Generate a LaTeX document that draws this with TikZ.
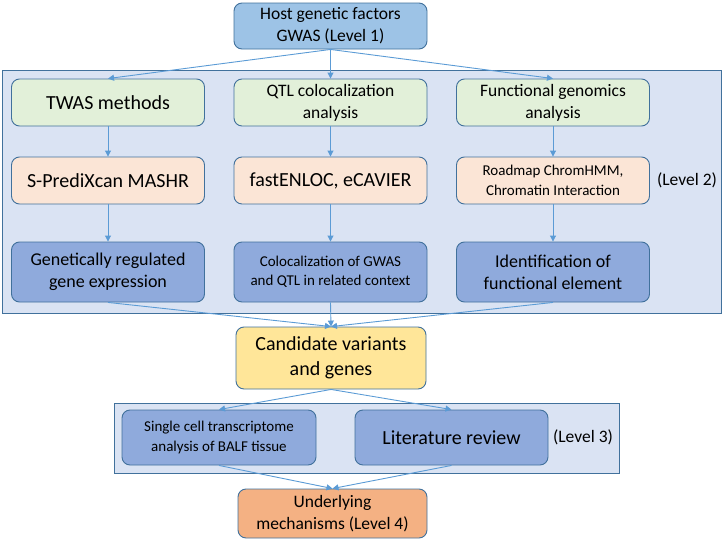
\documentclass[tikz,border=0pt]{standalone}
\usepackage{fontspec}
\setmainfont{Carlito}
\usetikzlibrary{arrows.meta}
\definecolor{bord}{HTML}{41719C}
\definecolor{arr}{HTML}{5B9BD5}
\definecolor{topc}{HTML}{9DC3E6}
\definecolor{greenc}{HTML}{E2F0D9}
\definecolor{peachc}{HTML}{FBE5D6}
\definecolor{bluec}{HTML}{8FAADC}
\definecolor{panelc}{HTML}{DAE3F3}
\definecolor{candc}{HTML}{FFE699}
\definecolor{undc}{HTML}{F4B183}
\tikzset{
  box/.style={draw=bord, line width=0.9pt, rounded corners=8pt, align=center,
    minimum width=193pt, inner sep=2pt, text=black},
  panel/.style={draw=bord, line width=1pt, fill=panelc},
  conn/.style={draw=arr, line width=0.9pt, -{Triangle[length=6pt,width=6pt]}},
  fbig/.style={font=\fontsize{20}{24}\selectfont},
  fmid/.style={font=\fontsize{17.5}{22}\selectfont},
  fmed/.style={font=\fontsize{18}{22}\selectfont},
  fsmall/.style={font=\fontsize{15}{19.5}\selectfont},
}
\begin{document}
\begin{tikzpicture}[x=1pt,y=-1pt]
\useasboundingbox (0,0) rectangle (724,541);
% panels
\node[panel, minimum width=719pt, minimum height=243pt, inner sep=0pt] (p2) at (361.5,191.5) {};
\node[panel, minimum width=505pt, minimum height=70pt, inner sep=0pt] (p3) at (366.5,438) {};
% top
\node[box, fill=topc, minimum height=46pt, fmid] (gwas) at (330.5,26)
  {Host genetic factors\\GWAS (Level 1)};
% row 1
\node[box, fill=greenc, minimum height=47pt, fbig] (twas) at (108,102.5)
  {TWAS methods};
\node[box, fill=greenc, minimum height=47pt, fmid] (qtl) at (330.5,102.5)
  {QTL colocalization\\analysis};
\node[box, fill=greenc, minimum height=47pt, fmid] (func) at (553,102.5)
  {Functional genomics\\analysis};
% row 2
\node[box, fill=peachc, minimum height=47pt, fbig] (spx) at (108,180.5)
  {S-PrediXcan MASHR};
\node[box, fill=peachc, minimum height=47pt, fbig] (fen) at (330.5,180.5)
  {fastENLOC, eCAVIER};
\node[box, fill=peachc, minimum height=47pt, fsmall] (road) at (553,180.5)
  {Roadmap ChromHMM,\\Chromatin Interaction};
\node[text=black, fmid] (lv2) at (687,180.5) {(Level 2)};
% row 3
\node[box, fill=bluec, minimum height=60pt, fmed] (grge) at (108,272)
  {Genetically regulated\\gene expression};
\node[box, fill=bluec, minimum height=60pt, fsmall] (colo) at (330.5,272)
  {Colocalization of GWAS\\and QTL in related context};
\node[box, fill=bluec, minimum height=60pt, fmed] (ident) at (553,272)
  {Identification of\\functional element};
% candidate
\node[box, fill=candc, minimum width=190pt, minimum height=62pt, font=\fontsize{20}{25}\selectfont] (cand) at (331,358)
  {Candidate variants\\and genes};
% level 3
\node[box, fill=bluec, minimum width=194pt, minimum height=55pt, fsmall] (sc) at (219,437.5)
  {Single cell transcriptome\\analysis of BALF tissue};
\node[box, fill=bluec, minimum width=193pt, minimum height=55pt, fbig] (lit) at (451.5,437.5)
  {Literature review};
\node[text=black, fmid] (lv3) at (583,437.5) {(Level 3)};
% underlying
\node[box, fill=undc, minimum width=189pt, minimum height=49pt, fmid] (und) at (332.5,513.5)
  {Underlying\\mechanisms (Level 4)};
% connectors
\draw[conn] (gwas.south) -- (twas.north);
\draw[conn] (gwas.south) -- (qtl.north);
\draw[conn] (gwas.south) -- (func.north);
\draw[conn] (twas) -- (spx);
\draw[conn] (qtl) -- (fen);
\draw[conn] (func) -- (road);
\draw[conn] (spx) -- (grge);
\draw[conn] (fen) -- (colo);
\draw[conn] (road) -- (ident);
\draw[conn] (grge.south) -- (cand.north);
\draw[conn] (colo.south) -- (cand.north);
\draw[conn] (ident.south) -- (cand.north);
\draw[conn] (cand.south) -- (sc.north);
\draw[conn] (cand.south) -- (lit.north);
\draw[conn] (sc.south) -- (und.north);
\draw[conn] (lit.south) -- (und.north);
\end{tikzpicture}
\end{document}
